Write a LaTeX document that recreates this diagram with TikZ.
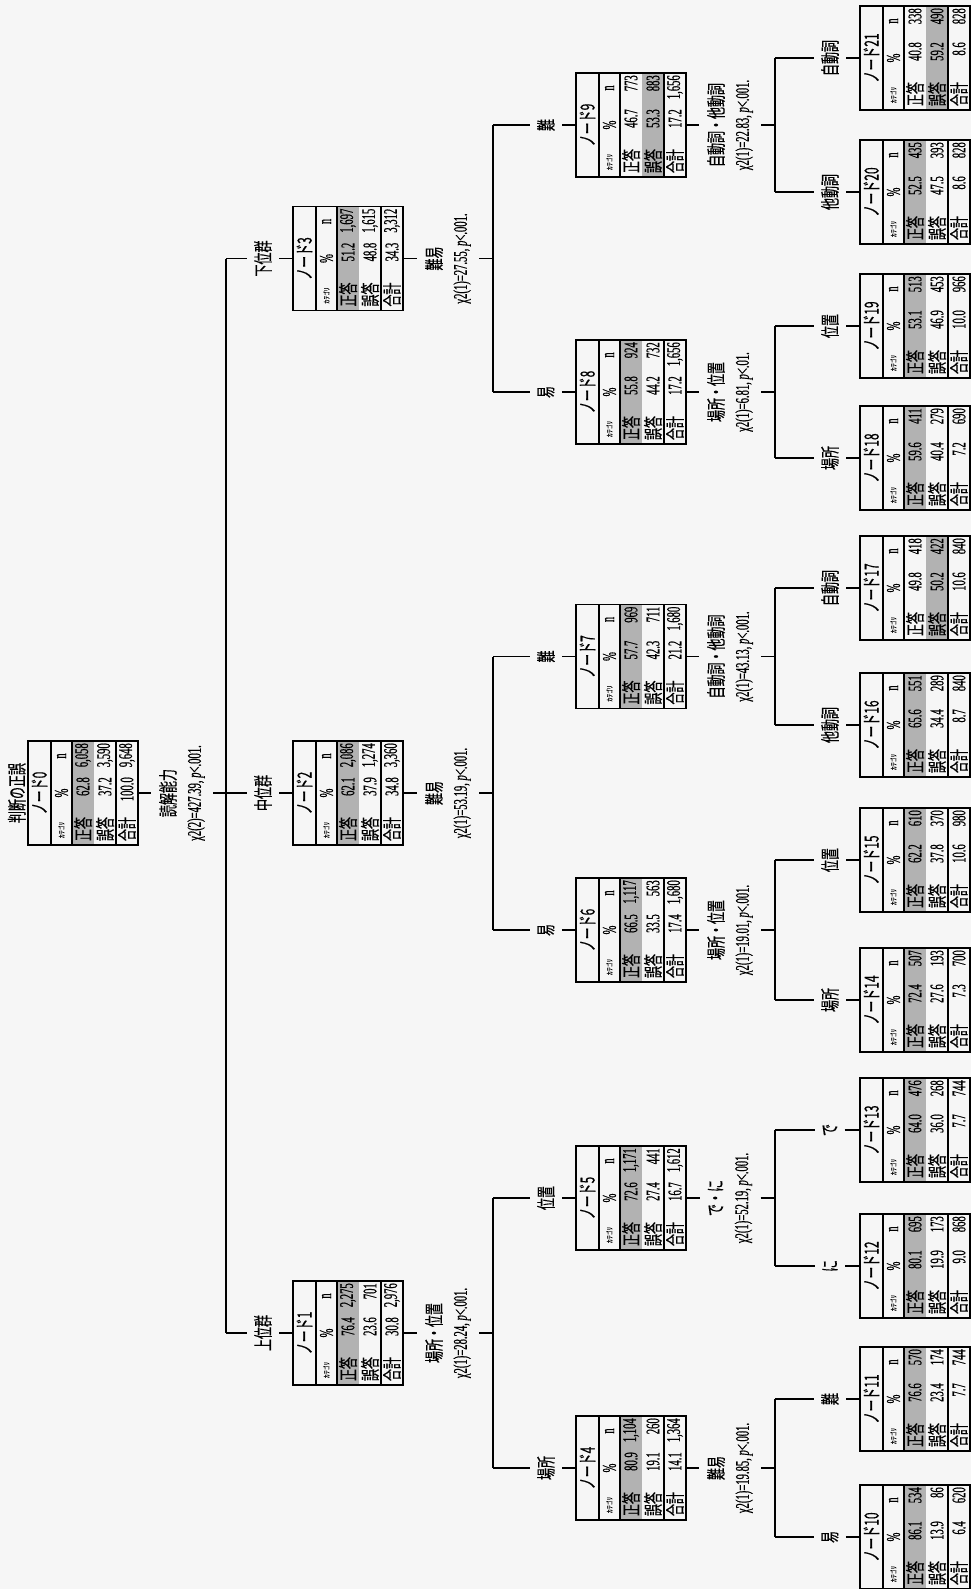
\documentclass[tikz,border=0pt]{standalone}
\usepackage{fontspec}
\setmainfont[FakeStretch=0.55, FakeBold=0.6]{Liberation Serif}
\newfontfamily\jpfont[FakeStretch=0.62, FakeBold=0.4]{Noto Sans CJK JP}
\usetikzlibrary{positioning, calc}

\definecolor{paper}{gray}{0.965}
\definecolor{cellgray}{gray}{0.7}

% one row of a node table: name, row y, percent, count
\newcommand{\rowvals}[4]{%
  \node[anchor=east] (#1p) at (17,#2) {#3};
  \node[anchor=east] (#1n) at (51,#2) {#4};}

% node table: name, centre, number, shaded row (1/2), rows {pct}{n}
\newcommand{\treebox}[7]{%
  \begin{scope}[shift={#2}, rotate=90, transform shape, x=0.2mm, y=0.2mm]
    \ifnum#4=1 \fill[cellgray] (-52,11) rectangle (52,-11);%
    \else \fill[cellgray] (-52,-11) rectangle (52,-33);\fi
    \draw[line width=1.6pt] (-52,32) -- (52,32);
    \draw[line width=0.6pt] (-52,11) -- (52,11);
    \draw[line width=0.8pt] (-52,-33) -- (52,-33);
    \node[jp, font=\jpfont\fontsize{11}{12}\selectfont] (#1-t) at (0,43.5) {ノード#3};
    \node[jp, font=\jpfont\fontsize{3.8}{4}\selectfont] (#1-hc) at (-37,21.5) {カテゴリ};
    \node (#1-hp) at (0,21.5) {\%};
    \node (#1-hn) at (37,21.5) {n};
    \node[jp] (#1-c1) at (-36,0) {正答};   \rowvals{#1-r1}{0}#5
    \node[jp] (#1-c2) at (-36,-22) {誤答}; \rowvals{#1-r2}{-22}#6
    \node[jp] (#1-c3) at (-36,-44) {合計}; \rowvals{#1-r3}{-44}#7
  \end{scope}
  \node[tbox] (#1) at #2 {};}

\begin{document}
\begin{tikzpicture}[x=0.2mm, y=-0.2mm,
  every node/.style={font=\fontsize{11}{12}\selectfont, inner sep=0.5pt},
  jp/.style={font=\jpfont\fontsize{11}{12}\selectfont},
  tbox/.style={draw, line width=1.1pt, rotate=90, minimum width=20.8mm,
    minimum height=22mm, inner sep=0pt, outer sep=0pt},
  split/.style={rotate=90, align=center, inner sep=1.6mm,
    font=\fontsize{11}{14.5}\selectfont},
  branch/.style={jp, rotate=90, inner sep=1.4mm},
  link/.style={line width=0.8pt}]
  \useasboundingbox (0,0) rectangle (971,1589);
  \fill[paper] (0,0) rectangle (971,1589);

  % root
  \treebox{n0}{(83,793)}{0}{1}{{62.8}{6,058}}{{37.2}{3,590}}{{100.0}{9,648}}
  \node[jp, rotate=90, anchor=south, inner sep=1pt] (top) at (n0.north) {判断の正誤};

  % level 1
  \treebox{n1}{(348,1333)}{1}{1}{{76.4}{2,275}}{{23.6}{701}}{{30.8}{2,976}}
  \treebox{n2}{(348,793)}{2}{1}{{62.1}{2,086}}{{37.9}{1,274}}{{34.8}{3,360}}
  \treebox{n3}{(348,258.5)}{3}{1}{{51.2}{1,697}}{{48.8}{1,615}}{{34.3}{3,312}}

  % level 2
  \treebox{n4}{(631,1468)}{4}{1}{{80.9}{1,104}}{{19.1}{260}}{{14.1}{1,364}}
  \treebox{n5}{(631,1198)}{5}{1}{{72.6}{1,171}}{{27.4}{441}}{{16.7}{1,612}}
  \treebox{n6}{(631,930)}{6}{1}{{66.5}{1,117}}{{33.5}{563}}{{17.4}{1,680}}
  \treebox{n7}{(631,656.5)}{7}{1}{{57.7}{969}}{{42.3}{711}}{{21.2}{1,680}}
  \treebox{n8}{(631,392)}{8}{1}{{55.8}{924}}{{44.2}{732}}{{17.2}{1,656}}
  \treebox{n9}{(631,125)}{9}{2}{{46.7}{773}}{{53.3}{883}}{{17.2}{1,656}}

  % level 3
  \treebox{n10}{(915,1537)}{10}{1}{{86.1}{534}}{{13.9}{86}}{{6.4}{620}}
  \treebox{n11}{(915,1399)}{11}{1}{{76.6}{570}}{{23.4}{174}}{{7.7}{744}}
  \treebox{n12}{(915,1266)}{12}{1}{{80.1}{695}}{{19.9}{173}}{{9.0}{868}}
  \treebox{n13}{(915,1130)}{13}{1}{{64.0}{476}}{{36.0}{268}}{{7.7}{744}}
  \treebox{n14}{(915,1000)}{14}{1}{{72.4}{507}}{{27.6}{193}}{{7.3}{700}}
  \treebox{n15}{(915,860)}{15}{1}{{62.2}{610}}{{37.8}{370}}{{10.6}{980}}
  \treebox{n16}{(915,725)}{16}{1}{{65.6}{551}}{{34.4}{289}}{{8.7}{840}}
  \treebox{n17}{(915,588)}{17}{2}{{49.8}{418}}{{50.2}{422}}{{10.6}{840}}
  \treebox{n18}{(915,458)}{18}{1}{{59.6}{411}}{{40.4}{279}}{{7.2}{690}}
  \treebox{n19}{(915,326)}{19}{1}{{53.1}{513}}{{46.9}{453}}{{10.0}{966}}
  \treebox{n20}{(915,192)}{20}{1}{{52.5}{435}}{{47.5}{393}}{{8.6}{828}}
  \treebox{n21}{(915,58)}{21}{2}{{40.8}{338}}{{59.2}{490}}{{8.6}{828}}

  % split variables
  \node[split] (s0) at (182,793) {{\jpfont 読解能力}\\χ2(2)=427.39, \textit{p}<.001.};
  \node[split] (s1) at (448,1333) {{\jpfont 場所・位置}\\χ2(1)=28.24, \textit{p}<.001.};
  \node[split] (s2) at (448,793) {{\jpfont 難易}\\χ2(1)=53.19, \textit{p}<.001.};
  \node[split] (s3) at (448,258.5) {{\jpfont 難易}\\χ2(1)=27.55, \textit{p}<.001.};
  \node[split] (s4) at (730,1468) {{\jpfont 難易}\\χ2(1)=19.85, \textit{p}<.001.};
  \node[split] (s5) at (730,1198) {{\jpfont で・に}\\χ2(1)=52.19, \textit{p}<.001.};
  \node[split] (s6) at (730,930) {{\jpfont 場所・位置}\\χ2(1)=19.01, \textit{p}<.001.};
  \node[split] (s7) at (730,656.5) {{\jpfont 自動詞・他動詞}\\χ2(1)=43.13, \textit{p}<.001.};
  \node[split] (s8) at (730,392) {{\jpfont 場所・位置}\\χ2(1)=6.81, \textit{p}<.01.};
  \node[split] (s9) at (730,125) {{\jpfont 自動詞・他動詞}\\χ2(1)=22.83, \textit{p}<.001.};

  % category labels on the branches
  \node[branch] (b1) at (263,1333) {上位群};
  \node[branch] (b2) at (263,793) {中位群};
  \node[branch] (b3) at (263,258.5) {下位群};
  \node[branch] (b4) at (546,1468) {場所};
  \node[branch] (b5) at (546,1198) {位置};
  \node[branch] (b6) at (546,930) {易};
  \node[branch] (b7) at (546,656.5) {難};
  \node[branch] (b8) at (546,392) {易};
  \node[branch] (b9) at (546,125) {難};
  \node[branch] (b10) at (830,1537) {易};
  \node[branch] (b11) at (830,1399) {難};
  \node[branch] (b12) at (830,1266) {に};
  \node[branch] (b13) at (830,1130) {で};
  \node[branch] (b14) at (830,1000) {場所};
  \node[branch] (b15) at (830,860) {位置};
  \node[branch] (b16) at (830,725) {他動詞};
  \node[branch] (b17) at (830,588) {自動詞};
  \node[branch] (b18) at (830,458) {場所};
  \node[branch] (b19) at (830,326) {位置};
  \node[branch] (b20) at (830,192) {他動詞};
  \node[branch] (b21) at (830,58) {自動詞};

  % junctions
  \coordinate (j0) at (226,793);
  \coordinate (j1) at (493,1333);
  \coordinate (j2) at (493,793);
  \coordinate (j3) at (493,258.5);
  \coordinate (j4) at (775,1468);
  \coordinate (j5) at (775,1198);
  \coordinate (j6) at (775,930);
  \coordinate (j7) at (775,656.5);
  \coordinate (j8) at (775,392);
  \coordinate (j9) at (775,125);
  \foreach \k/\x/\y in {1/226/1333, 2/226/793, 3/226/258.5,
      4/493/1468, 5/493/1198, 6/493/930, 7/493/656.5, 8/493/392, 9/493/125,
      10/775/1537, 11/775/1399, 12/775/1266, 13/775/1130, 14/775/1000,
      15/775/860, 16/775/725, 17/775/588, 18/775/458, 19/775/326,
      20/775/192, 21/775/58}
    \coordinate (c\k) at (\x,\y);

  % connectors
  \foreach \k in {0,...,9}
    \draw[link] (n\k) -- (s\k) -- (j\k);
  \foreach \a/\b in {3/1, 5/4, 7/6, 9/8, 11/10, 13/12, 15/14, 17/16, 19/18, 21/20}
    \draw[link] (c\a) -- (c\b);
  \foreach \k in {1,...,21}
    \draw[link] (c\k) -- (b\k) -- (n\k);
\end{tikzpicture}
\end{document}
